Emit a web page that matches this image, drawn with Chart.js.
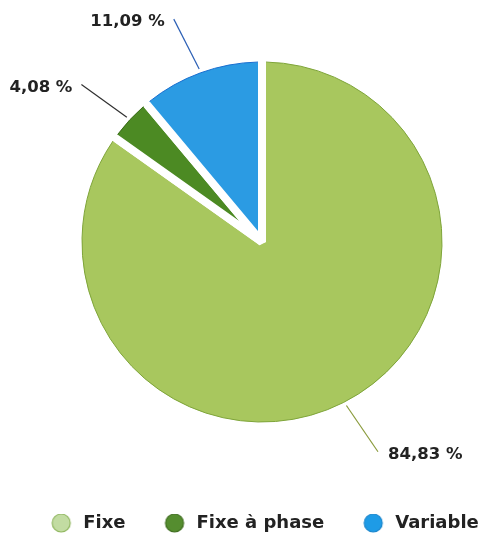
<!DOCTYPE html>
<html lang="fr">
<head>
<meta charset="utf-8">
<title>Répartition</title>
<script src="https://cdn.jsdelivr.net/npm/chart.js@4.4.1/dist/chart.umd.min.js"></script>
<style>
  html, body { margin: 0; padding: 0; background: #ffffff; }
  .chart-box { position: relative; width: 491px; height: 544px; }
</style>
</head>
<body>
<div class="chart-box"><canvas id="chartRepartition"></canvas></div>
<script>
  /* Donnees */
  const categories = ['Fixe', 'Fixe à phase', 'Variable'];
  const shares = [84.83, 4.08, 11.09];

  /* Couleurs */
  const sliceColors = ['#a8c75e', '#4c8a23', '#2b9be3'];
  const edgeColors = ['#7fa53a', '#3b6c19', '#1a6fd0'];
  const legendFill = ['#c2dca2', '#558d2f', '#1e9be6'];
  const legendEdge = ['#8fb65e', '#3d6b1d', '#1985cc'];
  const leaderColors = ['#8a9b3c', '#2f2f2f', '#2b5fb5'];

  const pct = (v) => v.toFixed(2).replace('.', ',') + ' %';

  /* Pastilles de la legende (cercle cale a droite de la case) */
  function legendDot(fill, edge) {
    const c = document.createElement('canvas');
    c.width = 60;
    c.height = 22;
    const g = c.getContext('2d');
    g.beginPath();
    g.arc(48, 11, 9, 0, Math.PI * 2);
    g.fillStyle = fill;
    g.fill();
    g.lineWidth = 1.2;
    g.strokeStyle = edge;
    g.stroke();
    return c;
  }
  const legendDots = categories.map((c, i) => legendDot(legendFill[i], legendEdge[i]));

  /* Decaler la zone du camembert */
  const pieArea = {
    id: 'pieArea',
    afterLayout(chart, args, opts) {
      const a = chart.chartArea;
      a.left += opts.left;
      a.bottom -= opts.bottom;
      a.width = a.right - a.left;
      a.height = a.bottom - a.top;
    }
  };

  /* Etiquettes exterieures avec traits */
  const outsideLabels = {
    id: 'outsideLabels',
    afterDatasetsDraw(chart, args, opts) {
      const ctx = chart.ctx;
      const arcs = chart.getDatasetMeta(0).data;
      const values = chart.data.datasets[0].data;

      arcs.forEach((arc, i) => {
        const { x, y, startAngle, endAngle, outerRadius } =
          arc.getProps(['x', 'y', 'startAngle', 'endAngle', 'outerRadius'], true);
        const r = outerRadius - opts.inset;
        const trim = opts.inset / r;

        ctx.save();
        // contour fin
        ctx.beginPath();
        ctx.arc(x, y, r, startAngle + trim, endAngle - trim);
        ctx.lineWidth = 1;
        ctx.strokeStyle = edgeColors[i];
        ctx.stroke();

        // trait
        const mid = (startAngle + endAngle) / 2;
        const dir = mid + opts.twist * Math.PI / 180;
        const x0 = x + Math.cos(mid) * outerRadius;
        const y0 = y + Math.sin(mid) * outerRadius;
        const x1 = x0 + Math.cos(dir) * opts.length;
        const y1 = y0 + Math.sin(dir) * opts.length;
        ctx.beginPath();
        ctx.moveTo(x0, y0);
        ctx.lineTo(x1, y1);
        ctx.lineWidth = 1.2;
        ctx.strokeStyle = leaderColors[i];
        ctx.stroke();

        // texte
        const left = Math.cos(dir) < 0;
        ctx.font = opts.font;
        ctx.fillStyle = '#222222';
        ctx.textAlign = left ? 'right' : 'left';
        ctx.textBaseline = 'middle';
        ctx.fillText(pct(values[i]), left ? x1 - 9 : x1 + 10, y1 + 3);
        ctx.restore();
      });
    }
  };

  const chartRepartition = new Chart(document.getElementById('chartRepartition'), {
    type: 'pie',
    data: {
      labels: categories,
      datasets: [
        {
          data: shares,
          backgroundColor: sliceColors,
          borderColor: '#ffffff',
          borderWidth: 8,
          hoverOffset: 0,
          radius: 184,
        },
      ],
    },
    plugins: [pieArea, outsideLabels],
    options: {
      responsive: true,
      maintainAspectRatio: false,
      animation: false,
      layout: { padding: { top: 0, bottom: 2, left: 0, right: 0 } },
      plugins: {
        tooltip: { enabled: false },
        pieArea: { left: 33, bottom: 30 },
        outsideLabels: {
          inset: 4,
          twist: -7,
          length: 56,
          font: 'bold 16.5px "DejaVu Sans"',
        },
        legend: {
          position: 'bottom',
          labels: {
            usePointStyle: true,
            pointStyleWidth: 62,
            padding: 0,
            color: '#222222',
            font: { family: '"DejaVu Sans"', size: 18, weight: 'bold' },
            generateLabels: () =>
              categories.map((t, i) => ({
                text: t,
                fillStyle: legendFill[i],
                strokeStyle: legendEdge[i],
                lineWidth: 0,
                pointStyle: legendDots[i],
                hidden: false,
                index: i,
                fontColor: '#222222',
              })),
          },
        },
      },
    },
  });
</script>
</body>
</html>
